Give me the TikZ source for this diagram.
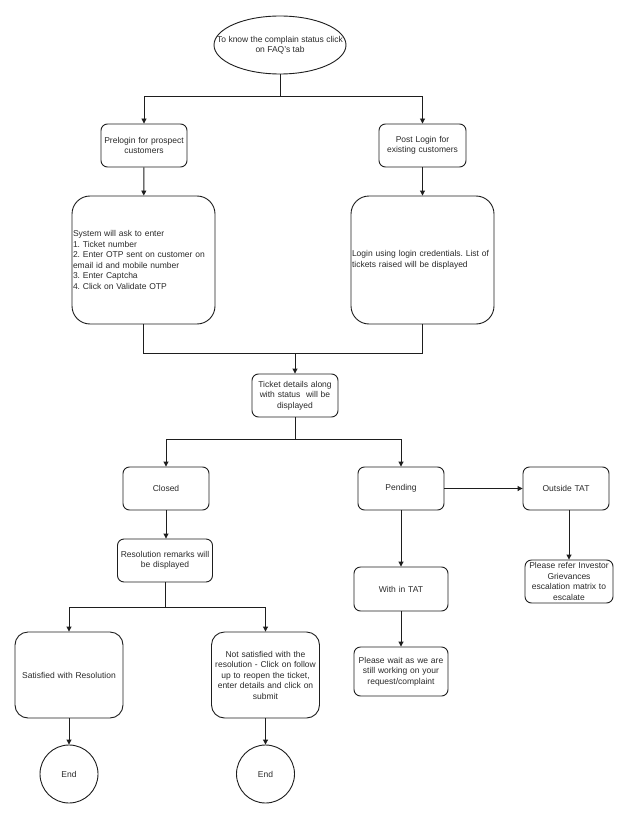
\documentclass[tikz,border=0pt]{standalone}
\usepackage{fontspec}
\setmainfont{Liberation Sans}
\usetikzlibrary{arrows.meta,shapes.geometric}
\definecolor{lc}{HTML}{1E1E1E}
\definecolor{tc}{HTML}{2A2A2A}
\newcommand\dfont{\fontsize{8.5}{10.5}\selectfont\frenchspacing}
\frenchspacing
\begin{document}
\begin{tikzpicture}[x=1pt,y=-1pt,
  line width=0.9pt,
  bx/.style n args={3}{draw=lc, rectangle, rounded corners=6.5pt, inner sep=1pt,
     minimum width=#1pt, minimum height=#2pt, text width=#3pt, align=center,
     font=\dfont, text=tc},
  arr/.style={draw=lc, -{Triangle[length=5pt,width=5pt]}},
  ln/.style={draw=lc},
  endc/.style={draw=lc, circle, minimum size=58pt, inner sep=0pt, font=\dfont, text=tc}]
\useasboundingbox (0,0) rectangle (636,829);
\fill[white] (0,0) rectangle (636,829);

\node[draw=lc, ellipse, minimum width=132pt, minimum height=58pt, inner sep=0pt,
  label={[align=center, font=\dfont, text=tc]center:To know the complain status click\\on FAQ's tab}] (start) at (280,45) {};

\node[bx={86}{43}{84}] (pre) at (144,145.5) {Prelogin for prospect\\customers};
\node[bx={87}{43}{85}] (post) at (422.5,145.5) {Post Login for\\existing customers};

\node[bx={143}{128}{141}, rounded corners=18pt, align=left] (sys) at (143.5,260)
  {System will ask to enter\\1. Ticket number\\2. Enter OTP sent on customer on\\email id and mobile number\\3. Enter Captcha\\4. Click on Validate OTP};
\node[bx={143}{128}{141}, rounded corners=18pt, align=left] (login) at (422.5,260)
  {Login using login credentials. List of\\tickets raised will be displayed};

\node[bx={86}{43}{84}] (ticket) at (295,395.5) {Ticket details along\\with status\ \ will be\\displayed};

\node[bx={86}{43}{84}] (closed) at (166,488.5) {Closed};
\node[bx={86}{43}{84}] (pending) at (401,488.5) {Pending};
\node[bx={86}{43}{84}] (outside) at (566,488.5) {Outside TAT};

\node[bx={93}{43}{93}] (resol) at (165,560.5) {Resolution remarks will\\be displayed};
\node[bx={94}{44}{92}] (within) at (401,589) {With in TAT};
\node[bx={94}{49}{92}] (wait) at (401,671.5) {Please wait as we are\\still working on your\\request/complaint};
\node[bx={86}{43}{86}] (refer) at (569,581.5) {Please refer Investor\\Grievances\\escalation matrix to\\escalate};

\node[bx={108}{86}{106}, rounded corners=13pt] (sat) at (69,675) {Satisfied with Resolution};
\node[bx={107}{86}{106}, rounded corners=13pt] (notsat) at (265.5,675) {Not satisfied with the\\resolution - Click on follow\\up to reopen the ticket,\\enter details and click on\\submit};

\node[endc] (end1) at (69,774) {End};
\node[endc] (end2) at (265.5,774) {End};

% connectors
\coordinate (j1) at (280,96);
\draw[ln] (start.south) -- (j1);
\draw[arr] (j1) -| (pre.north);
\draw[arr] (j1) -| (post.north);
\draw[arr] (pre) -- (sys);
\draw[arr] (post) -- (login);

\coordinate (j2) at (295,353);
\draw[ln] (sys.south) |- (j2);
\draw[ln] (login.south) |- (j2);
\draw[arr] (j2) -- (ticket.north);

\coordinate (j3) at (295,439);
\draw[ln] (ticket.south) -- (j3);
\draw[arr] (j3) -| (closed.north);
\draw[arr] (j3) -| (pending.north);

\draw[arr] (closed) -- (closed.south |- resol.north);
\draw[arr] (pending) -- (outside);
\draw[arr] (pending) -- (within);
\draw[arr] (within) -- (wait);
\draw[arr] (refer.north |- outside.south) -- (refer.north);

\coordinate (j4) at (165,607);
\draw[ln] (resol.south) -- (j4);
\draw[arr] (j4) -| (sat.north);
\draw[arr] (j4) -| (notsat.north);
\draw[arr] (sat) -- (end1);
\draw[arr] (notsat) -- (end2);
\end{tikzpicture}
\end{document}
